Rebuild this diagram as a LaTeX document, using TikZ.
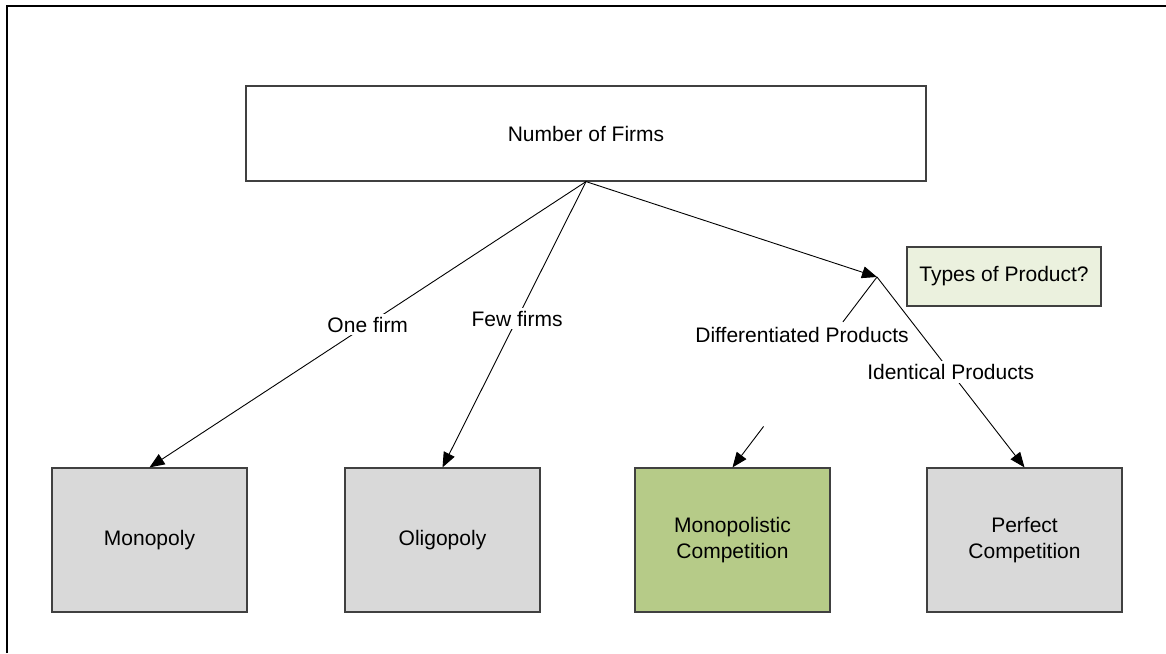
\documentclass[tikz,border=0pt]{standalone}
\usepackage{fontspec}
\setmainfont{Liberation Sans}
\usetikzlibrary{arrows.meta,calc}
\definecolor{boxgrey}{RGB}{217,217,217}
\definecolor{boxgreen}{RGB}{182,203,136}
\definecolor{boxpale}{RGB}{235,241,222}
\definecolor{edgegrey}{RGB}{64,64,64}
\begin{document}
\begin{tikzpicture}[x=1pt,y=-1pt,
  font=\fontsize{21}{26}\selectfont,
  box/.style={draw=edgegrey, line width=1.2pt, minimum width=195pt, minimum height=144pt, inner sep=0pt, align=center, fill=boxgrey},
  arr/.style={-{Triangle[length=15pt,width=12pt]}, line width=0.9pt},
  plain/.style={line width=0.9pt},
  lbl/.style={fill=white, inner sep=3pt}]
\useasboundingbox (0,0) rectangle (1166,653);
% frame
\draw[line width=2pt] (7,653) -- (7,6) -- (1166,6);
% nodes
\node[draw=edgegrey, line width=1.2pt, fill=white, minimum width=680pt, minimum height=95pt, inner sep=0pt] (top) at (586,133.5) {Number of Firms};
\node[draw=edgegrey, line width=1.2pt, fill=boxpale, minimum width=194pt, minimum height=59pt, inner sep=0pt] (types) at (1004,276.5) {Types of Product?};
\node[box] (mono) at (149.5,540) {Monopoly};
\node[box] (olig) at (442.5,540) {Oligopoly};
\node[box, fill=boxgreen] (mpc) at (732.5,540) {Monopolistic\\Competition};
\node[box] (perf) at (1024.5,540) {Perfect\\Competition};
\coordinate (br) at (877,277);
% connectors
\draw[arr] (top.south) -- node[lbl, pos=0.5] {One firm} (mono.north);
\draw[arr] (top.south) -- node[lbl, pos=0.48] {Few firms} (olig.north);
\draw[arr] (top.south) -- (br);
\draw[arr] (br) -- node[lbl, pos=0.5] {Identical Products} (perf.north);
\coordinate (d1) at ($(br)!0.236!(mpc.north)$);
\coordinate (d2) at ($(br)!0.785!(mpc.north)$);
\draw[plain] (br) -- (d1);
\draw[arr] (d2) -- (mpc.north);
\node[inner sep=0pt] (dlbl) at (802,335) {Differentiated Products};
\end{tikzpicture}
\end{document}
